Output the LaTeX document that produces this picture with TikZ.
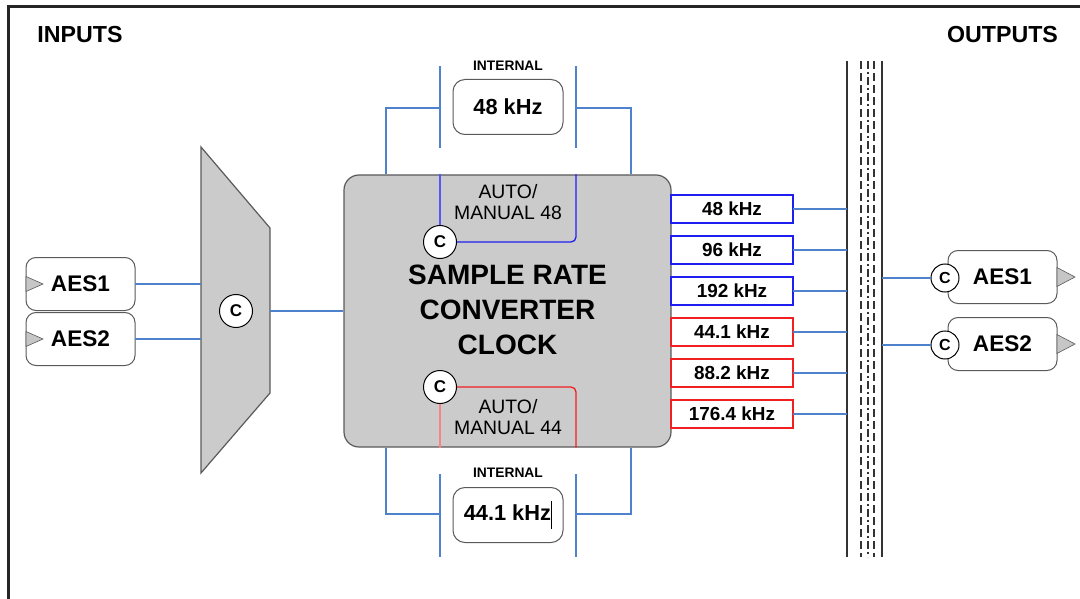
\documentclass[tikz,border=0pt]{standalone}
\usepackage{fontspec}
\setmainfont{Liberation Sans}
\usepackage{xcolor}
\usetikzlibrary{positioning,calc}

\definecolor{wireblue}{HTML}{4F82CC}
\definecolor{rateblue}{HTML}{1E1EF0}
\definecolor{ratered}{HTML}{F02020}
\definecolor{blockgray}{HTML}{CBCBCB}
\definecolor{edgegray}{HTML}{5A5A5A}

\begin{document}
\begin{tikzpicture}[
  x=1pt, y=-1pt,
  wire/.style={draw=wireblue, line width=1.3pt},
  tap/.style={line width=1.3pt},
  port/.style={draw=edgegray, fill=white, rounded corners=10pt, line width=1pt, outer sep=0pt, minimum width=109pt, minimum height=53pt, font=\bfseries\fontsize{22.6}{24}\selectfont},
  clk/.style={circle, draw=black, fill=white, line width=1pt, inner sep=0pt, minimum size=33pt, font=\bfseries\fontsize{17}{17}\selectfont},
  internal/.style={draw=edgegray, fill=white, rounded corners=12pt, line width=1pt, minimum width=110pt, minimum height=55pt, font=\bfseries\fontsize{21.8}{24}\selectfont},
  tag/.style={font=\bfseries\fontsize{13.8}{15}\selectfont},
  rate/.style={draw, fill=white, line width=1.4pt, outer sep=0pt, inner sep=0pt, minimum width=122pt, minimum height=28pt, font=\bfseries\fontsize{18.9}{20}\selectfont},
  mode/.style={align=center, font=\fontsize{19.4}{21}\selectfont},
  header/.style={font=\bfseries\fontsize{23.2}{26}\selectfont},
  tri/.style={fill=gray!45, draw=gray!70!black, line width=0.6pt},
  bus/.style={line width=1.4pt, black!80}
]
\useasboundingbox (0,0) rectangle (1080,599);

% frame
\draw[line width=2.5pt, black!85] (8.5,599) -- (8.5,6.5) -- (1080,6.5);

\node[header] (inputs) at (80,35) {INPUTS};
\node[header] (outputs) at (1002.5,35) {OUTPUTS};

% inputs
\node[port] (in1) at (80.5,284) {AES1};
\node[port, below=2pt of in1] (in2) {AES2};
\draw[tri] ($(in1.west)+(0,-7.5)$) -- ++(17,7.5) -- ++(-17,7.5) -- cycle;
\draw[tri] ($(in2.west)+(0,-7.5)$) -- ++(17,7.5) -- ++(-17,7.5) -- cycle;

% input selector
\draw[fill=blockgray, draw=edgegray, line width=1.2pt] (201,147) -- (270,228) -- (270,393) -- (201,473) -- cycle;
\coordinate (muxin) at (201,311);
\coordinate (muxout) at (270,311);
\node[clk] (muxc) at (236,311) {C};
\draw[wire] (in1.east) -- (in1.east -| muxin);
\draw[wire] (in2.east) -- (in2.east -| muxin);

% converter clock
\node[draw=edgegray, fill=blockgray, rounded corners=15pt, line width=1.2pt, minimum width=327pt, minimum height=272pt] (src) at (507.5,311) {};
\draw[wire] (muxout) -- (src.west);

% internal 48
\node[tag] (tag48) at (508,66) {INTERNAL};
\node[internal] (int48) at (508,107) {48 kHz};
\coordinate (sw48L) at (440,66);
\coordinate (sw48R) at (576,66);
\coordinate (jL) at (386,108);
\coordinate (jR) at (631,108);
\draw[wire] (sw48L) -- ++(0,82);
\draw[wire] (sw48R) -- ++(0,82);
\draw[wire] (jL -| sw48L) -- (jL) -- (jL |- src.north);
\draw[wire] (jR -| sw48R) -- (jR) -- (jR |- src.north);

\draw[rateblue, tap, rounded corners=5pt] (440,242) -| (sw48R |- src.north);
\draw[rateblue!75, tap] (440,242) -- (sw48L |- src.north);
\node[clk] (c48) at (440,242) {C};
\node[mode] (m48) at (508,202) {AUTO/\\MANUAL 48};

\node[align=center, font=\bfseries\fontsize{28}{35}\selectfont] (title) at (507.5,310) {SAMPLE RATE\\CONVERTER\\CLOCK};

% internal 44.1
\coordinate (sw44L) at (440,474);
\coordinate (sw44R) at (576,474);
\coordinate (kL) at (386,514);
\coordinate (kR) at (631,514);
\draw[ratered, tap, rounded corners=5pt] (440,387) -| (sw44R |- src.south);
\draw[ratered!55, tap] (440,387) -- (sw44L |- src.south);
\node[clk] (c44) at (440,387) {C};
\node[mode] (m44) at (508,417) {AUTO/\\MANUAL 44};

\node[tag] (tag44) at (508,473) {INTERNAL};
\node[internal] (int44) at (508,515) {44.1 kHz\rule[-8.5pt]{1.2pt}{28pt}};
\draw[wire] (sw44L) -- ++(0,83);
\draw[wire] (sw44R) -- ++(0,83);
\draw[wire] (kL -| sw44L) -- (kL) -- (kL |- src.south);
\draw[wire] (kR -| sw44R) -- (kR) -- (kR |- src.south);

% output rates
\node[rate, draw=rateblue] (r48) at (732,209) {48 kHz};
\node[rate, draw=rateblue, below=13pt of r48] (r96) {96 kHz};
\node[rate, draw=rateblue, below=13pt of r96] (r192) {192 kHz};
\node[rate, draw=ratered, below=13pt of r192] (r441) {44.1 kHz};
\node[rate, draw=ratered, below=13pt of r441] (r882) {88.2 kHz};
\node[rate, draw=ratered, below=13pt of r882] (r1764) {176.4 kHz};

% bus
\coordinate (busL) at (847,61);
\coordinate (busR) at (882,61);
\draw[bus] (busL) -- ++(0,496);
\draw[bus] (busR) -- ++(0,496);
\draw[bus, line width=1.2pt, dash pattern=on 8pt off 4pt] (861,61) -- ++(0,496);
\draw[bus, line width=1.2pt, dash pattern=on 8pt off 3pt on 2pt off 3pt] (868,61) -- ++(0,496);
\draw[bus, line width=1.2pt, dash pattern=on 8pt off 4pt] (874,61) -- ++(0,496);

\draw[wire] (r48.east) -- (r48.east -| busL);
\draw[wire] (r96.east) -- (r96.east -| busL);
\draw[wire] (r192.east) -- (r192.east -| busL);
\draw[wire] (r441.east) -- (r441.east -| busL);
\draw[wire] (r882.east) -- (r882.east -| busL);
\draw[wire] (r1764.east) -- (r1764.east -| busL);

% outputs
\node[port] (out1) at (1002.5,277) {AES1};
\node[port, below=14pt of out1] (out2) {AES2};
\draw[tri] ($(out1.east)+(0,-9.5)$) -- ++(18,9.5) -- ++(-18,9.5) -- cycle;
\draw[tri] ($(out2.east)+(0,-9.5)$) -- ++(18,9.5) -- ++(-18,9.5) -- cycle;
\node[clk, minimum size=28pt, font=\bfseries\fontsize{16}{16}\selectfont] (oc1) at ($(out1.west)+(-3,1)$) {C};
\node[clk, minimum size=28pt, font=\bfseries\fontsize{16}{16}\selectfont] (oc2) at ($(out2.west)+(-3,1)$) {C};
\draw[wire] (oc1.west) -- (oc1.west -| busR);
\draw[wire] (oc2.west) -- (oc2.west -| busR);
\end{tikzpicture}
\end{document}
